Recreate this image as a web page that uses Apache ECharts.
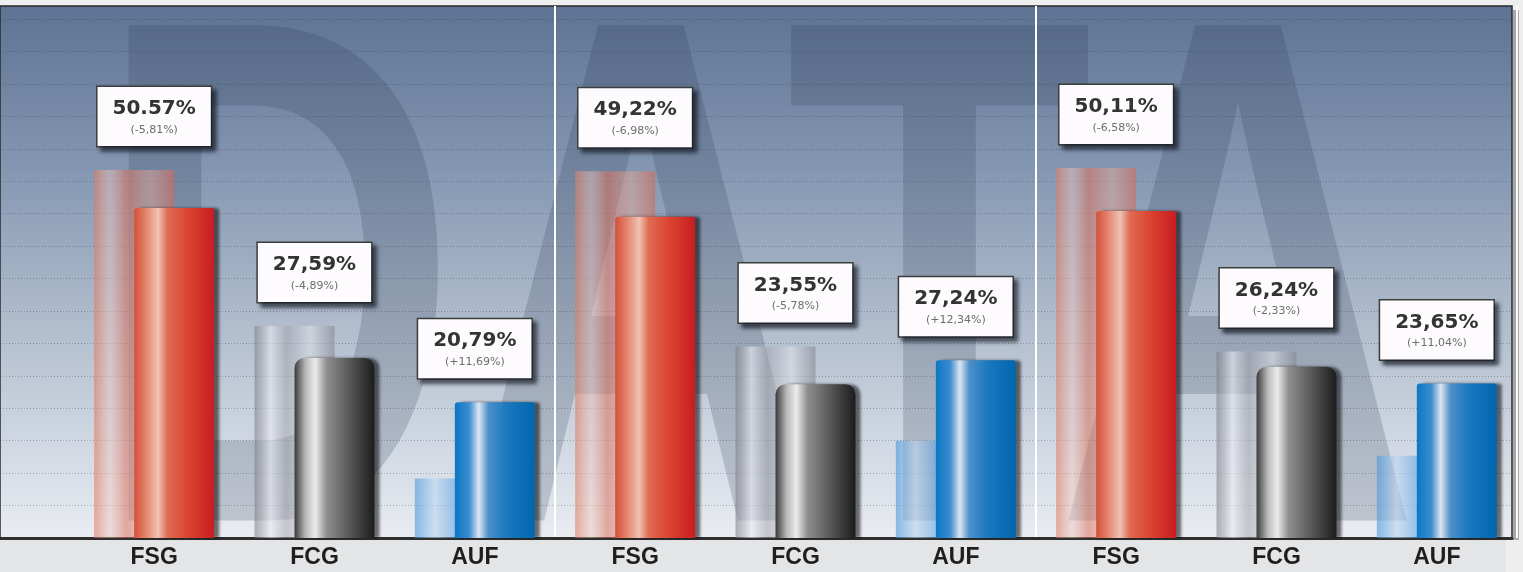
<!DOCTYPE html>
<html>
<head>
<meta charset="utf-8">
<script src="https://cdn.jsdelivr.net/npm/echarts@6/dist/echarts.min.js"></script>
<style>html,body{margin:0;padding:0;background:#eeeeee;}#chart{width:1523px;height:572px;}</style>
</head>
<body>
<div id="chart"></div>
<script>
// ---- data ----
const categories = ['FSG', 'FCG', 'AUF', 'FSG', 'FCG', 'AUF', 'FSG', 'FCG', 'AUF'];
const current = [50.57, 27.59, 20.79, 49.22, 23.55, 27.24, 50.11, 26.24, 23.65];
const previous = [56.38, 32.48, 9.10, 56.20, 29.33, 14.90, 56.69, 28.57, 12.61];
const mainLabels = ['50.57%', '27,59%', '20,79%', '49,22%', '23,55%', '27,24%', '50,11%', '26,24%', '23,65%'];

// ---- styles ----
function grad(stops) {
  return { type: 'linear', x: 0, y: 0, x2: 1, y2: 0,
    colorStops: stops.map(s => ({ offset: s[0], color: s[1] })) };
}
const mainColors = {
  FSG: grad([[0, '#d4503a'], [0.14, '#e3826a'], [0.3, '#efc3b3'], [0.42, '#e06a52'], [0.7, '#d9412f'], [1, '#c81c22']]),
  FCG: grad([[0, '#3a3a3a'], [0.14, '#b9b9b9'], [0.26, '#ececec'], [0.4, '#8f8f8f'], [0.7, '#555555'], [1, '#1c1c1c']]),
  AUF: grad([[0, '#0b78c4'], [0.18, '#3d8cd0'], [0.3, '#dde5f0'], [0.42, '#4d90c9'], [0.65, '#1a78c0'], [1, '#0066ae']])
};
const ghostColors = {
  FSG: grad([[0, 'rgba(225,120,95,0.6)'], [0.2, 'rgba(240,200,190,0.45)'], [0.4, 'rgba(220,110,90,0.55)'], [0.7, 'rgba(235,170,150,0.45)'], [1, 'rgba(215,100,80,0.55)']]),
  FCG: grad([[0, 'rgba(120,120,130,0.55)'], [0.2, 'rgba(235,236,240,0.6)'], [0.4, 'rgba(160,160,170,0.5)'], [0.7, 'rgba(225,228,232,0.55)'], [1, 'rgba(130,130,140,0.55)']]),
  AUF: grad([[0, 'rgba(70,150,220,0.6)'], [0.25, 'rgba(190,215,240,0.6)'], [0.5, 'rgba(90,160,225,0.55)'], [0.8, 'rgba(200,220,240,0.55)'], [1, 'rgba(80,150,215,0.6)']])
};

function changeText(i) {
  const d = current[i] - previous[i];
  return '(' + (d >= 0 ? '+' : '-') + Math.abs(d).toFixed(2).replace('.', ',') + '%)';
}

const chart = echarts.init(document.getElementById('chart'));
const option = {
  backgroundColor: '#eeeeee',
  animation: false,
  graphic: [
    { type: 'rect', z: -10, shape: { x: 0, y: 6, width: 1512, height: 532 },
      style: { fill: { type: 'linear', x: 0, y: 0, x2: 0, y2: 1, colorStops: [
        { offset: 0, color: '#5d7393' }, { offset: 0.3, color: '#8396b1' },
        { offset: 0.6, color: '#b1bdcd' }, { offset: 0.85, color: '#d4dbe5' }, { offset: 1, color: '#eaedf2' }] },
        stroke: '#2a2a2a', lineWidth: 1.5 } },
    { type: 'rect', z: -10, shape: { x: 1513, y: 10, width: 6, height: 530 }, style: { fill: 'rgba(80,80,80,0.45)' } },
    { type: 'text', z: -9, x: 95, y: -38, scaleX: 0.7, scaleY: 1,
      style: { text: 'DATA', font: 'bold 720px "Liberation Sans"', fill: 'rgba(40,55,80,0.2)', textVerticalAlign: 'top' } },
    { type: 'rect', z: -8, shape: { x: 0, y: 538, width: 1506, height: 34 }, style: { fill: '#e4e5e7' } }
  ],
  grid: [
    { left: 74, right: 6, top: 6, bottom: 34 },
    { left: 0, right: 11, top: 19, bottom: 34 }
  ],
  xAxis: [
    { type: 'category', gridIndex: 0, data: categories,
      axisLine: { show: false },
      axisTick: { show: false },
      axisLabel: { color: '#1e1e1e', fontFamily: 'Liberation Sans', fontWeight: 'bold', fontSize: 23, margin: 8 },
      splitLine: { show: true, interval: (i) => i === 3 || i === 6, lineStyle: { color: '#ffffff', width: 2 } } },
    { type: 'value', gridIndex: 1, min: 0, max: 1,
      axisLine: { show: true, lineStyle: { color: '#2e2e2e', width: 3 } },
      axisTick: { show: false }, axisLabel: { show: false }, splitLine: { show: false } }
  ],
  yAxis: [
    { type: 'value', gridIndex: 0, min: 0, max: 81.5, show: false },
    { type: 'value', gridIndex: 1, min: 0, max: 80, interval: 5,
      axisLine: { show: false }, axisTick: { show: false }, axisLabel: { show: false },
      splitLine: { show: true, lineStyle: { type: [1, 2], color: 'rgba(45,50,65,0.35)', width: 1 } } }
  ],
  series: [
    { type: 'bar', xAxisIndex: 0, yAxisIndex: 0, barWidth: 80, barGap: '-50%', z: 2,
      data: previous.map((v, i) => ({ value: v, itemStyle: { color: ghostColors[categories[i]] } })) },
    { type: 'bar', xAxisIndex: 0, yAxisIndex: 0, barWidth: 80, z: 3,
      data: current.map((v, i) => ({ value: v, itemStyle: {
        color: mainColors[categories[i]],
        borderRadius: categories[i] === 'FCG' ? [10, 10, 0, 0] : [3, 3, 0, 0],
        shadowColor: 'rgba(0,0,0,0.55)', shadowOffsetX: 5, shadowBlur: 3 } })) },
    { type: 'scatter', xAxisIndex: 0, yAxisIndex: 0, symbolSize: 0, z: 5,
      itemStyle: { opacity: 1 },
      data: current.map((v, i) => Math.max(v, previous[i])),
      label: { show: true, position: 'top', distance: 24, opacity: 1,
        formatter: (p) => '{a|' + mainLabels[p.dataIndex] + '}\n{b|' + changeText(p.dataIndex) + '}',
        backgroundColor: '#fdfbfd', borderColor: '#3c3c3c', borderWidth: 1.5,
        padding: [9, 15, 8, 15],
        shadowColor: 'rgba(20,25,35,0.7)', shadowBlur: 4, shadowOffsetX: 4, shadowOffsetY: 4,
        rich: {
          a: { fontFamily: 'DejaVu Sans', fontWeight: 'bold', fontSize: 20, color: '#333333', lineHeight: 26, align: 'center' },
          b: { fontFamily: 'DejaVu Sans', fontSize: 11, color: '#6e6e6e', lineHeight: 16, align: 'center' }
        } } }
  ]
};
chart.setOption(option);
</script>
</body>
</html>
